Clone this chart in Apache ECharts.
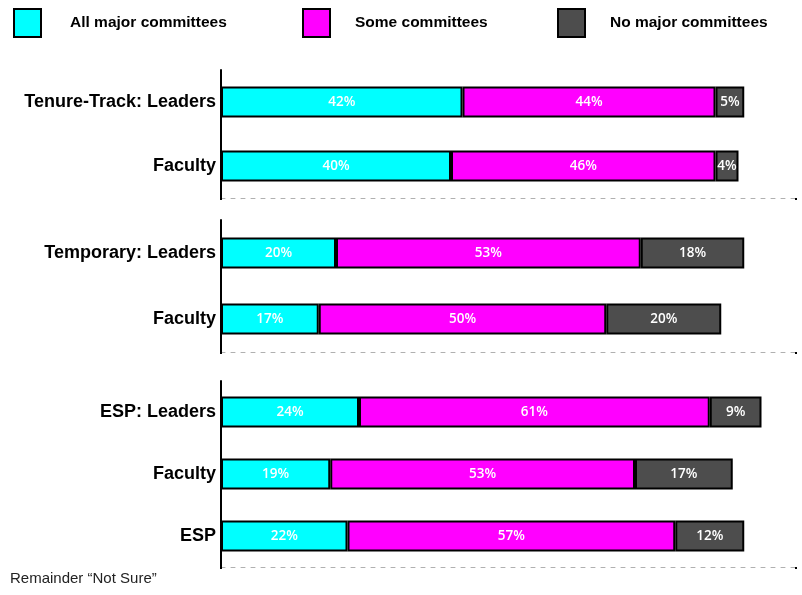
<!DOCTYPE html>
<html>
<head>
<meta charset="utf-8">
<script src="https://cdn.jsdelivr.net/npm/echarts@6/dist/echarts.min.js"></script>
<style>
  html, body { margin: 0; padding: 0; background: #fff; }
  #chart { width: 802px; height: 595px; }
</style>
</head>
<body>
<div id="chart"></div>
<script>
// three groups of rows, top to bottom
const groupRows = [
  ['Tenure-Track: Leaders', 'Faculty'],
  ['Temporary: Leaders', 'Faculty'],
  ['ESP: Leaders', 'Faculty', 'ESP']
];
const seriesNames = ['All major committees', 'Some committees', 'No major committees'];
const allMajor = [[42, 40], [20, 17], [24, 19, 22]];
const someComm = [[44, 46], [53, 50], [61, 53, 57]];
const noMajor  = [[5, 4], [18, 20], [9, 17, 12]];
const colors = ['#00ffff', '#ff00ff', '#4d4d4d'];

const narrow = "'Liberation Sans Narrow', 'Liberation Sans', Arial, sans-serif";

// grid placement for each group (pixels)
const gridBoxes = [
  { top: 70, height: 128 },
  { top: 220, height: 132 },
  { top: 381, height: 186 }
];

const grids = [], xAxes = [], yAxes = [], series = [];
const valueSets = [allMajor, someComm, noMajor];

gridBoxes.forEach((g, i) => {
  grids.push({ left: 221, width: 575, top: g.top, height: g.height });
  xAxes.push({
    gridIndex: i, type: 'value', min: 0, max: 100, interval: 100,
    axisLine: { show: true, lineStyle: { color: '#b0b0b0', width: 1, type: [4, 6] } },
    axisTick: { show: true, length: 2, lineStyle: { color: '#000', width: 2 } },
    axisLabel: { show: false },
    splitLine: { show: false }
  });
  yAxes.push({
    gridIndex: i, type: 'category', inverse: true, data: groupRows[i],
    axisLine: { show: true, onZero: false, lineStyle: { color: '#000', width: 2 } },
    axisTick: { show: false },
    axisLabel: { color: '#000', fontSize: 18, fontWeight: 'bold', fontFamily: narrow, margin: 5 }
  });
  seriesNames.forEach((name, s) => {
    series.push({
      name: name, type: 'bar', stack: 'g' + i,
      xAxisIndex: i, yAxisIndex: i,
      barWidth: 31,
      data: valueSets[s][i],
      itemStyle: { color: colors[s], borderColor: '#000', borderWidth: 2 },
      label: {
        show: true, position: 'inside', formatter: '{c}%',
        color: '#fff', fontSize: 13.5, fontWeight: 600,
        fontFamily: "'Open Sans', 'Noto Sans', 'DejaVu Sans', sans-serif"
      }
    });
  });
});

const legendLefts = [8, 297, 552];
const legendPads = [24, 20, 20];
const legends = seriesNames.map((name, i) => ({
  data: [name], left: legendLefts[i], top: 3,
  itemWidth: 27, itemHeight: 28, itemGap: 0,
  icon: 'rect',
  itemStyle: { borderColor: '#000', borderWidth: 2 },
  textStyle: { color: '#000', fontSize: 15.5, fontWeight: 'bold', fontFamily: narrow, padding: [0, 0, 0, legendPads[i]] },
  selectedMode: false
}));

const chart = echarts.init(document.getElementById('chart'), null, { renderer: 'canvas' });
chart.setOption({
  animation: false,
  backgroundColor: '#fff',
  color: colors,
  legend: legends,
  grid: grids,
  xAxis: xAxes,
  yAxis: yAxes,
  series: series,
  graphic: [{
    type: 'text', left: 10, top: 571,
    style: { text: 'Remainder \u201cNot Sure\u201d', fill: '#222', font: '15px ' + narrow }
  }]
});
</script>
</body>
</html>
